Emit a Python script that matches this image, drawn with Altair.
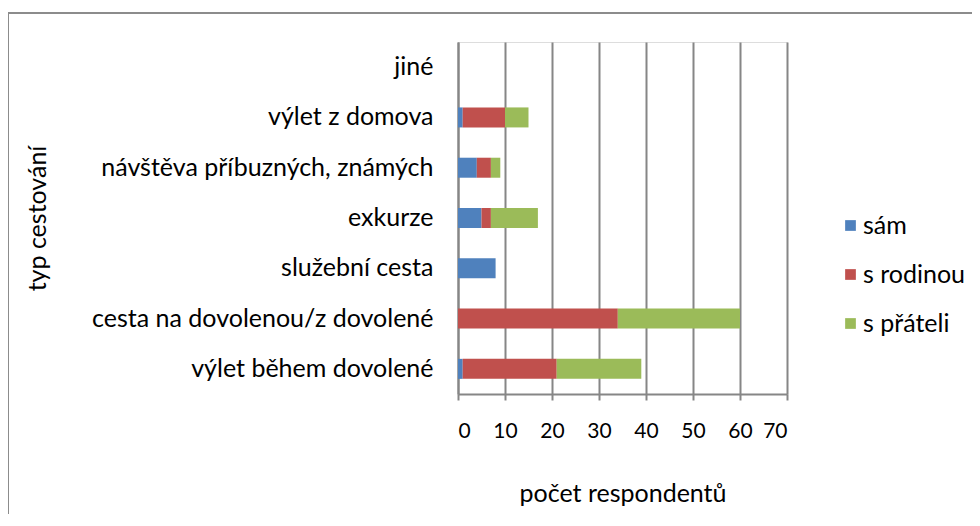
import altair as alt
import pandas as pd

categories = [
    "jiné",
    "výlet z domova",
    "návštěva příbuzných, známých",
    "exkurze",
    "služební cesta",
    "cesta na dovolenou/z dovolené",
    "výlet během dovolené",
]
series = ["sám", "s rodinou", "s přáteli"]
sam = [0, 1, 4, 5, 8, 0, 1]
s_rodinou = [0, 9, 3, 2, 0, 34, 20]
s_prateli = [0, 5, 2, 10, 0, 26, 18]
colors = ["#4F81BD", "#C0504D", "#9BBB59"]
x_ticks = [0, 10, 20, 30, 40, 50, 60, 70]

rows = []
for i, c in enumerate(categories):
    for j, (s, vals) in enumerate(zip(series, [sam, s_rodinou, s_prateli])):
        rows.append({"typ": c, "serie": s, "poradi": j, "hodnota": vals[i]})
df = pd.DataFrame(rows)

FONT = "Lato"
FS = 25
GRID = "#868686"

bars = alt.Chart(df).mark_bar(size=20).encode(
    y=alt.Y(
        "typ:N",
        sort=categories,
        scale=alt.Scale(paddingInner=0, paddingOuter=0),
        axis=alt.Axis(
            title="typ cestování",
            titleFont=FONT,
            titleFontSize=FS,
            titleFontWeight="normal",
            titleColor="#000000",
            titleX=-421,
            titleY=176,
            titleAngle=-90,
            titleAlign="center",
            titleBaseline="middle",
            labelFont=FONT,
            labelFontSize=FS,
            labelColor="#000000",
            labelPadding=25,
            ticks=False,
            domainColor=GRID,
            domainWidth=2,
            labelLimit=600,
        ),
    ),
    x=alt.X(
        "hodnota:Q",
        stack="zero",
        scale=alt.Scale(domain=[0, 70], nice=False),
        axis=alt.Axis(
            values=x_ticks,
            title="počet respondentů",
            titleFont=FONT,
            titleFontSize=FS,
            titleFontWeight="normal",
            titleColor="#000000",
            titleY=99,
            titleBaseline="middle",
            labelFont=FONT,
            labelFontSize=21,
            labelColor="#000000",
            labelPadding=20,
            tickSize=6,
            tickColor=GRID,
            tickWidth=2,
            domainColor=GRID,
            domainWidth=2,
            grid=True,
            gridColor=GRID,
            gridWidth=2,
        ),
    ),
    color=alt.Color(
        "serie:N",
        sort=series,
        scale=alt.Scale(domain=series, range=colors),
        legend=alt.Legend(
            title=None,
            orient="none",
            legendX=380,
            legendY=171,
            padding=0,
            symbolType="square",
            symbolSize=115,
            symbolStrokeWidth=0,
            labelFont=FONT,
            labelFontSize=FS,
            labelColor="#000000",
            rowPadding=23,
            labelOffset=0,
            labelLimit=300,
        ),
    ),
    order=alt.Order("poradi:Q"),
)

border = alt.Chart(alt.Data(values=[{}])).mark_rule(color="#8c8c8c", strokeWidth=2).encode(
    x=alt.value(-450), y=alt.value(-29), y2=alt.value(600)
)
border_top = alt.Chart(alt.Data(values=[{}])).mark_rule(color="#8c8c8c", strokeWidth=2).encode(
    x=alt.value(-450), x2=alt.value(600), y=alt.value(-29)
)

chart = alt.layer(bars, border, border_top).properties(
    width=329,
    height=352,
    autosize=alt.AutoSizeParams(type="none"),
    padding={"left": 450, "top": 34, "right": 185, "bottom": 120},
).configure_view(stroke=None).configure(background="#ffffff")

chart.save("out.html", embed_options={"renderer": "svg", "actions": False})
